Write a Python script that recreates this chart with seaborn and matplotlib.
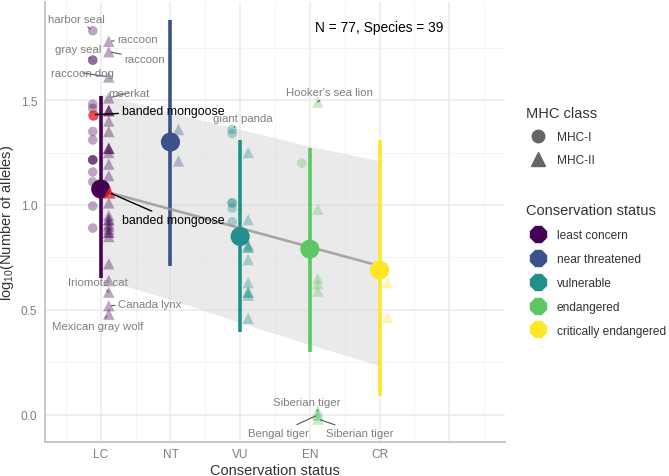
import numpy as np
import pandas as pd
import matplotlib.pyplot as plt
import seaborn as sns
from matplotlib.lines import Line2D

# ---------------------------------------------------------------------------
# data
# ---------------------------------------------------------------------------
status_codes = ['LC', 'NT', 'VU', 'EN', 'CR']
status_names = ['least concern', 'near threatened', 'vulnerable',
                'endangered', 'critically endangered']
status_colors = ['#440154', '#3B528B', '#21908C', '#5DC863', '#FDE725']

# log10(number of alleles) per species, by MHC class
mhc1_values = {
    'LC': [1.83, 1.69, 1.69, 1.48, 1.46, 1.35, 1.31, 1.215, 1.215, 1.215,
           1.157, 1.11, 0.995, 0.89],
    'NT': [],
    'VU': [1.36, 1.34, 1.01, 1.01, 0.985, 0.92],
    'EN': [1.20],
    'CR': [],
}
mhc2_values = {
    'LC': [1.78, 1.73, 1.61, 1.51, 1.45, 1.45, 1.45, 1.40, 1.35, 1.27, 1.27,
           1.27, 1.25, 1.195, 1.14, 1.01, 0.95, 0.93, 0.93, 0.91, 0.90,
           0.886, 0.87, 0.87, 0.85, 0.72, 0.64, 0.585, 0.52, 0.48],
    'NT': [1.36, 1.21],
    'VU': [1.25, 0.93, 0.81, 0.80, 0.80, 0.74, 0.63, 0.585, 0.585, 0.57, 0.46],
    'EN': [1.49, 0.98, 0.65, 0.625, 0.59, 0.02, 0.0, 0.0, -0.02],
    'CR': [0.63, 0.465],
}

# banded mongoose highlighted in red
mongoose_status = ['LC', 'LC']
mongoose_mhc = ['MHC-I', 'MHC-II']
mongoose_values = [1.43, 1.06]

# status means and their ranges
status_means = [1.076, 1.30, 0.85, 0.79, 0.69]
range_lower = [0.65, 0.71, 0.395, 0.30, 0.09]
range_upper = [1.52, 1.88, 1.31, 1.27, 1.31]

# linear fit across status with its confidence band
fit_values = [1.07, 0.98, 0.89, 0.80, 0.71]
fit_lower = [0.65, 0.55, 0.44, 0.335, 0.235]
fit_upper = [1.53, 1.44, 1.36, 1.28, 1.21]

# labelled species: (name, status, MHC class, value)
labelled = [
    ('harbor seal', 'LC', 'MHC-I', 1.83),
    ('gray seal', 'LC', 'MHC-I', 1.69),
    ('raccoon', 'LC', 'MHC-II', 1.78),
    ('raccoon', 'LC', 'MHC-II', 1.73),
    ('raccoon dog', 'LC', 'MHC-II', 1.61),
    ('meerkat', 'LC', 'MHC-II', 1.51),
    ('Iriomote cat', 'LC', 'MHC-II', 0.585),
    ('Canada lynx', 'LC', 'MHC-II', 0.52),
    ('Mexican gray wolf', 'LC', 'MHC-II', 0.48),
    ('giant panda', 'VU', 'MHC-I', 1.36),
    ("Hooker's sea lion", 'EN', 'MHC-II', 1.49),
    ('Siberian tiger', 'EN', 'MHC-II', 0.02),
    ('Bengal tiger', 'EN', 'MHC-II', 0.0),
    ('Siberian tiger', 'EN', 'MHC-II', -0.02),
]
# label text offsets from the point, in pixels (right, down)
label_offsets = [(-16, -12), (-15, -11), (29, -2), (36, 7), (-26, -4),
                 (20, -5), (-11, -10), (41, -2), (-11, 12), (11, -11),
                 (12, -10), (-11, -9), (-39, 18), (42, 14)]
mongoose_offsets = [(29, -4), (13, 28)]

n_text = 'N = 77, Species = 39'

# ---------------------------------------------------------------------------
# build tables
# ---------------------------------------------------------------------------
dodge = 0.115
rows = []
for i, code in enumerate(status_codes):
    for v in mhc1_values[code]:
        rows.append((code, 'MHC-I', v, i + 1 - dodge))
    for v in mhc2_values[code]:
        rows.append((code, 'MHC-II', v, i + 1 + dodge))
df = pd.DataFrame(rows, columns=['status', 'mhc', 'value', 'xpos'])


def xpos_of(code, mhc):
    i = status_codes.index(code)
    return i + 1 + (-dodge if mhc == 'MHC-I' else dodge)


mongoose = pd.DataFrame({
    'xpos': [xpos_of(s, m) for s, m in zip(mongoose_status, mongoose_mhc)],
    'value': mongoose_values,
    'mhc': mongoose_mhc,
})

summary = pd.DataFrame({
    'x': np.arange(1, len(status_codes) + 1),
    'status': status_codes,
    'mean': status_means,
    'lo': range_lower,
    'hi': range_upper,
    'fit': fit_values,
    'fit_lo': fit_lower,
    'fit_hi': fit_upper,
})

palette = dict(zip(status_codes, status_colors))
markers = {'MHC-I': 'o', 'MHC-II': '^'}
sizes = {'MHC-I': 48, 'MHC-II': 68}

# ---------------------------------------------------------------------------
# plot
# ---------------------------------------------------------------------------
sns.set_theme(style='white')
plt.rcParams['font.family'] = ['Liberation Sans', 'DejaVu Sans']
plt.rcParams['mathtext.fontset'] = 'custom'
plt.rcParams['mathtext.rm'] = 'Liberation Sans'
plt.rcParams['mathtext.it'] = 'Liberation Sans'

fig = plt.figure(figsize=(6.69, 4.77), dpi=100)
ax = fig.add_axes([45 / 669, 1 - 443 / 477, 460 / 669, 440 / 477])

# confidence band of the fit
ax.fill_between(summary['x'], summary['fit_lo'], summary['fit_hi'],
                color='#D9D9D9', alpha=0.55, lw=0, zorder=1)

# species points
for mhc in ['MHC-I', 'MHC-II']:
    sns.scatterplot(data=df[df['mhc'] == mhc], x='xpos', y='value',
                    hue='status', palette=palette, marker=markers[mhc],
                    s=sizes[mhc], alpha=0.35, linewidth=0, legend=False,
                    ax=ax, zorder=2)

# ranges per status
ax.vlines(summary['x'], summary['lo'], summary['hi'], colors=status_colors,
          lw=2.6, zorder=3)

# fitted line
sns.lineplot(data=summary, x='x', y='fit', color='#9A9A9A', lw=1.9,
             alpha=0.85, ax=ax, zorder=4)

# status means
sns.scatterplot(data=summary, x='x', y='mean', hue='status', palette=palette,
                s=190, linewidth=0, legend=False, ax=ax, zorder=5)

# banded mongoose
for mhc in mongoose_mhc:
    sns.scatterplot(data=mongoose[mongoose['mhc'] == mhc], x='xpos',
                    y='value', marker=markers[mhc], color='#E8202A',
                    s=sizes[mhc] + 8, alpha=0.8, linewidth=0, legend=False,
                    ax=ax, zorder=6)

# labels for selected species
for (name, code, mhc, v), (dx, dy) in zip(labelled, label_offsets):
    ax.annotate(name, xy=(xpos_of(code, mhc), v),
                xytext=(dx * 0.72, -dy * 0.72), textcoords='offset points',
                ha='center', va='center', fontsize=8.2, color='#7F7F7F',
                arrowprops=dict(arrowstyle='-', color='#555555', lw=0.8,
                                shrinkA=0, shrinkB=2), zorder=7)

for code, mhc, v, (dx, dy) in zip(mongoose_status, mongoose_mhc,
                                  mongoose_values, mongoose_offsets):
    ax.annotate('banded mongoose', xy=(xpos_of(code, mhc), v),
                xytext=(dx * 0.72, -dy * 0.72), textcoords='offset points',
                ha='left', va='center', fontsize=8.9, color='black',
                arrowprops=dict(arrowstyle='-', color='black', lw=1.0,
                                shrinkA=0, shrinkB=2), zorder=7)

ax.text(5, 1.848, n_text, ha='center', va='center', fontsize=9.9,
        color='black')

# axes, grid
ax.set_xlim(0.2, 6.8)
ax.set_ylim(-0.129, 1.967)
ax.set_xticks(np.arange(1, 7))
ax.set_xticklabels(status_codes + [''])
ax.set_xticks(np.arange(0.5, 7.0, 1.0), minor=True)
ax.set_yticks([0.0, 0.5, 1.0, 1.5])
ax.set_yticklabels(['0.0', '0.5', '1.0', '1.5'])
ax.set_yticks([0.25, 0.75, 1.25, 1.75], minor=True)
ax.grid(which='major', color='#EBEBEB', lw=1.1, zorder=0)
ax.grid(which='minor', color='#F2F2F2', lw=0.6, zorder=0)
ax.set_axisbelow(True)
ax.tick_params(axis='both', which='both', length=0, labelsize=8.6,
               labelcolor='#7F7F7F')
ax.tick_params(axis='x', pad=4.5)
ax.tick_params(axis='y', pad=5.5)
for side in ['top', 'right']:
    ax.spines[side].set_visible(False)
for side in ['left', 'bottom']:
    ax.spines[side].set_color('#C4C4C4')
    ax.spines[side].set_linewidth(1.3)

ax.set_xlabel('Conservation status', fontsize=10.5, color='#333333',
              labelpad=2)
ax.set_ylabel('log$_{10}$(Number of alleles)', fontsize=10.5,
              color='#333333')
ax.yaxis.set_label_coords(-0.062, 0.5)

# legends
mhc_handles = [
    Line2D([], [], ls='', marker='o', color='#666666', markersize=9),
    Line2D([], [], ls='', marker='^', color='#666666', markersize=10),
]
leg1 = fig.legend(mhc_handles, ['MHC-I', 'MHC-II'], title='MHC class',
                  loc='upper left', bbox_to_anchor=(0.770, 0.799),
                  frameon=False, fontsize=8.6, title_fontsize=10.5,
                  alignment='left', handletextpad=0.6, labelspacing=0.95,
                  labelcolor='#333333')
leg1.get_title().set_color('#333333')

status_handles = [Line2D([], [], ls='', marker='8', color=c, markersize=13)
                  for c in status_colors]
leg2 = fig.legend(status_handles, status_names, title='Conservation status',
                  loc='upper left', bbox_to_anchor=(0.770, 0.595),
                  frameon=False, fontsize=8.6, title_fontsize=10.5,
                  alignment='left', handletextpad=0.6, labelspacing=1.0,
                  labelcolor='#333333')
leg2.get_title().set_color('#333333')

fig.savefig('out.png', dpi=100)
